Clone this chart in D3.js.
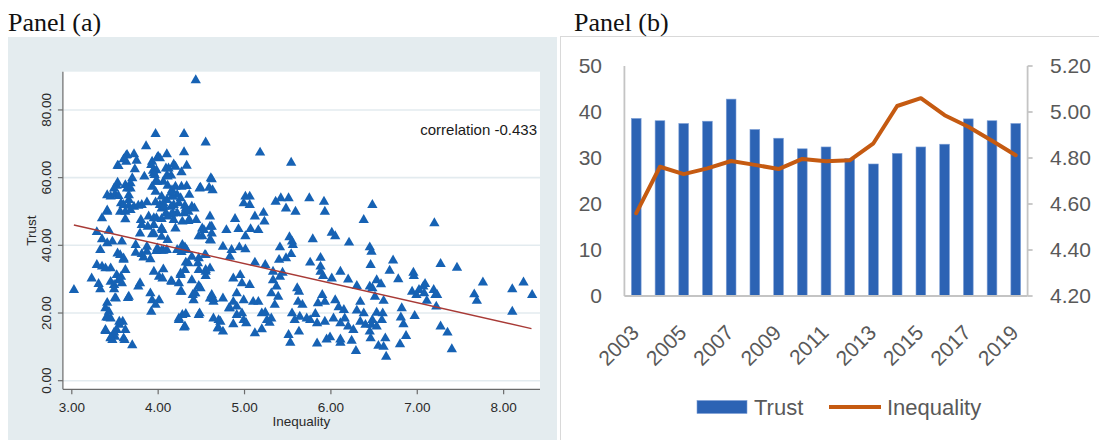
<!DOCTYPE html>
<html>
<head>
<meta charset="utf-8">
<script src="https://cdn.jsdelivr.net/npm/d3@7"></script>
<style>
  html, body { margin: 0; padding: 0; background: #ffffff; }
  svg { display: block; }
</style>
</head>
<body>
<svg id="chart" width="1099" height="440"></svg>
<script>
// ---------- Panel (a): inequality vs trust, one triangle per observation ----------
const scatterPoints = [
  // [inequality, trust]
  [3.97,72.9],[4.30,72.9],[4.55,70.4],[3.86,69.3],[3.63,66.5],[3.72,66.9],[3.75,65.0],[3.63,64.7],
  [3.54,63.4],[3.73,62.5],[3.93,64.7],[3.99,65.9],[4.02,65.7],[4.10,66.9],[4.30,67.5],[3.92,63.7],
  [4.18,63.9],[4.33,63.5],[3.94,62.0],[3.95,61.3],[4.12,62.7],[4.15,60.6],[4.27,61.6],[3.84,60.3],
  [3.70,59.8],[3.68,58.3],[4.10,60.6],[4.06,58.8],[3.97,58.8],[4.61,59.8],[4.59,57.0],[4.49,57.0],
  [3.52,57.6],[3.62,57.8],[3.68,56.8],[3.93,57.3],[3.97,55.8],[4.11,57.6],[4.16,56.3],[4.27,57.3],
  [4.33,57.5],[4.36,54.9],[3.45,54.4],[3.50,55.1],[3.54,54.6],[3.57,52.4],[4.04,54.4],[4.10,53.4],
  [4.16,54.4],[4.22,54.9],[4.26,53.9],[4.18,51.9],[4.24,52.4],[4.31,51.7],[4.39,51.4],[3.60,51.9],
  [3.66,51.7],[3.72,51.4],[3.77,51.7],[3.81,51.9],[3.87,52.7],[3.97,52.7],[4.02,51.9],[4.06,52.4],
  [3.56,49.9],[3.62,49.9],[3.68,50.4],[3.41,49.9],[3.35,48.0],[4.04,50.9],[4.09,49.5],[4.15,49.0],
  [4.22,49.5],[4.30,49.5],[4.35,49.9],[3.89,48.5],[3.95,48.0],[4.04,47.8],[4.18,47.5],[4.28,47.0],
  [4.35,47.2],[4.44,47.5],[4.60,48.5],[3.62,47.7],[3.81,46.0],[3.95,46.0],[4.04,45.0],[4.20,45.0],
  [4.51,45.0],[4.60,45.5],[3.29,43.9],[3.43,44.3],
  [4.17,54.4],[4.20,57.3],[4.15,55.5],[4.11,60.3],[4.09,62.7],[4.20,63.2],[3.98,62.2],[3.96,60.8],
  [3.99,58.8],[4.00,66.2],[3.98,48.0],[4.07,51.4],[4.15,51.4],[4.17,49.4],[4.11,48.5],[4.05,44.5],
  [3.95,43.4],[3.88,45.5],[3.80,47.5],[3.79,43.5],[4.11,41.6],[4.06,38.4],[3.98,38.3],
  [3.66,53.4],[3.66,54.8],[3.64,56.8],[3.53,58.5],[3.49,56.8],[3.53,63.5],[3.60,65.4],[3.64,66.7],
  [3.41,54.8],[3.41,50.3],[4.36,47.5],[4.42,50.9],[4.32,50.9],[4.53,44.5],[4.47,42.7],[4.61,41.4],
  [4.62,45.5],[4.63,56.3],[4.62,59.5],[4.48,56.8],
  [3.35,41.8],[3.41,40.6],[3.33,38.6],[3.47,41.1],[3.58,41.1],[3.93,43.3],[4.04,42.5],[4.51,42.7],
  [4.60,41.6],[3.74,37.8],[3.81,37.4],[3.87,38.1],[3.91,35.9],[3.99,39.1],[4.04,38.4],[4.10,38.6],
  [4.28,40.1],[4.33,38.6],[4.39,36.6],[4.47,36.2],[4.55,37.1],[3.56,37.1],[3.60,35.7],[3.74,40.1],
  [3.87,39.6],[3.83,36.4],[3.29,34.2],[3.35,33.7],[3.39,33.2],[3.45,33.2],[3.52,31.2],[3.62,32.7],
  [3.54,29.7],[3.45,29.2],[3.49,28.3],[3.58,28.8],[3.31,28.6],[3.33,27.0],[3.49,27.0],[3.79,28.8],
  [3.77,27.8],[3.95,32.2],[4.06,32.9],[4.01,30.7],[4.05,30.2],[4.16,29.2],[4.24,28.8],[4.26,31.2],
  [4.31,32.7],[4.35,34.7],[4.39,29.7],[4.47,32.7],[4.55,32.2],[4.60,33.2],[4.27,26.3],[4.41,23.8],
  [4.43,25.8],[4.49,27.3],[4.60,24.3],[3.91,25.8],[3.93,23.8],[4.01,23.8],[3.97,22.4],[3.66,24.8],
  [3.51,24.3],[3.92,20.4],[3.41,23.0],[3.39,21.4],[3.43,20.4],[3.40,18.7],[3.45,18.4],[3.59,17.4],
  [3.55,16.5],[3.52,15.0],[3.62,15.0],[3.50,13.0],[3.60,12.5],[3.39,15.0],[3.45,12.5],[3.47,12.0],
  [3.70,10.5],[4.28,19.4],[4.24,17.9],[4.31,16.0],[4.47,19.4],[4.64,18.4],
  [4.26,31.7],[4.32,34.9],[4.27,38.0],[4.22,38.6],[4.31,39.4],[4.15,29.4],[4.26,26.3],[4.32,19.7],
  [4.30,15.7],[4.24,18.4],[4.54,37.1],[4.46,34.7],[4.55,32.7],[4.55,30.9],[4.47,28.0],[4.42,25.8],
  [4.48,19.9],[4.40,25.3],[3.57,30.7],[3.53,37.6],[3.60,36.1],[3.50,24.4],[3.65,24.4],[3.42,18.6],
  [3.39,14.7],[3.49,14.2],[3.55,17.4],[3.45,12.7],[3.61,12.0],[4.82,21.4],[4.70,17.9],[4.69,15.5],
  [4.64,24.1],[4.62,25.3],
  [5.18,67.4],[5.54,64.4],[5.01,54.4],[5.06,54.4],[4.99,52.4],[5.06,51.9],[5.36,52.9],[5.42,53.9],
  [5.51,53.9],[5.48,50.9],[5.59,49.9],[5.75,53.9],[5.92,52.9],[5.93,49.9],[6.48,51.9],[6.38,47.5],
  [5.22,49.6],[5.23,47.0],[5.12,48.5],[4.89,47.8],[4.79,44.5],[4.93,44.8],[5.07,44.8],[5.16,44.5],
  [5.01,42.7],[4.62,43.5],[4.75,39.6],[4.85,38.6],[4.94,39.4],[5.01,38.8],[4.83,36.6],[5.52,42.4],
  [5.55,41.1],[5.56,40.1],[5.41,39.4],[5.40,35.7],[5.48,36.2],[5.54,37.4],[5.79,41.8],[6.01,43.7],
  [6.05,42.7],[6.21,40.8],[6.45,39.4],[6.47,38.1],[6.46,34.2],[5.12,34.9],[5.24,34.2],[5.33,32.2],
  [5.41,30.7],[5.44,31.9],[5.76,34.9],[5.88,36.3],[5.88,33.7],[5.88,32.2],[5.91,30.9],[6.01,30.2],
  [6.11,32.2],[6.20,29.9],[6.30,28.0],[6.45,27.8],[6.48,27.3],[6.53,29.7],[4.87,30.2],[4.95,31.2],
  [4.97,28.8],[4.91,25.8],[5.06,28.3],[4.99,23.8],[5.33,29.7],[5.37,27.8],[5.31,25.8],[5.39,24.8],
  [5.35,22.4],[5.61,27.3],[5.63,26.3],[5.62,23.3],[5.67,22.4],[5.90,25.3],[5.93,23.3],[5.85,22.9],
  [6.05,23.8],[6.09,21.7],[6.15,20.9],[6.34,23.3],[6.30,20.7],[6.38,19.9],[6.51,24.8],[6.53,20.1],
  [6.48,17.9],[6.47,16.5],[6.53,16.0],[6.55,10.3],[6.45,14.5],[6.46,12.5],[4.64,23.3],[4.75,24.3],
  [4.87,23.3],[4.91,21.9],[4.83,21.4],[4.97,19.9],[4.91,19.4],[4.99,17.9],[5.02,17.0],[4.72,17.4],
  [4.70,15.5],[4.75,14.5],[4.87,16.7],[5.10,23.3],[5.16,23.3],[5.20,19.9],[5.24,20.1],[5.26,17.9],
  [5.31,18.4],[5.29,17.1],[5.12,14.0],[5.20,15.2],[5.55,19.9],[5.58,17.9],[5.64,18.9],[5.72,18.4],
  [5.76,17.9],[5.82,19.7],[5.84,17.0],[5.93,17.4],[5.51,13.5],[5.53,11.2],[5.63,14.5],[5.84,11.0],
  [5.95,12.2],[5.99,12.8],[6.11,12.2],[6.11,11.2],[6.24,11.8],[6.26,15.0],[6.29,8.8],[6.03,18.4],
  [6.11,17.0],[6.20,16.0],[6.16,18.4],[6.34,17.4],[6.40,16.5],
  [7.198,46.5],[6.72,35.5],[6.68,32.5],[6.78,30.0],[6.955,31.9],[6.96,30.9],[7.27,34.5],[7.46,33.4],
  [7.76,29.0],[7.66,25.5],[7.69,23.6],[8.10,27.0],[8.23,29.0],[8.33,25.3],[8.10,20.4],[6.94,26.3],
  [7.02,26.8],[6.99,25.3],[7.08,25.8],[7.07,27.8],[7.09,28.6],[7.11,23.6],[7.19,26.8],[7.21,25.3],
  [7.23,25.3],[7.22,21.9],[6.97,19.1],[6.82,21.4],[6.81,18.7],[6.84,16.7],[6.87,13.2],[6.80,10.8],
  [7.27,16.0],[7.35,14.2],[7.40,9.3],[6.61,23.6],[6.60,19.9],[6.59,17.9],[6.63,12.5],[6.61,10.0],
  [6.64,7.1],[6.58,28.5],
  [3.025,26.8],[3.23,30.2],[4.435,88.8]
];
const fitStart = [3.024, 46.0];
const fitEnd = [8.322, 15.4];
const correlationLabel = "correlation -0.433";
const scatterXTicks = [3, 4, 5, 6, 7, 8];
const scatterYTicks = [0, 20, 40, 60, 80];

// ---------- Panel (b): yearly averages ----------
const years = [2003,2004,2005,2006,2007,2008,2009,2010,2011,2012,2013,2014,2015,2016,2017,2018,2019];
const trustValues = [38.6,38.1,37.5,38.0,42.8,36.2,34.3,32.0,32.4,29.9,28.7,31.0,32.4,33.0,38.5,38.1,37.5];
const inequalityValues = [4.56,4.762,4.730,4.755,4.787,4.770,4.752,4.796,4.786,4.790,4.864,5.026,5.060,4.986,4.936,4.875,4.812];
const trustTicks = [0, 10, 20, 30, 40, 50];
const inequalityTicks = [4.2, 4.4, 4.6, 4.8, 5.0, 5.2];
const yearLabels = [2003,2005,2007,2009,2011,2013,2015,2017,2019];

const svg = d3.select("#chart");

// ======================= Panel (a) =======================
const pa = svg.append("g");
pa.append("rect").attr("x", 8).attr("y", 37).attr("width", 549).attr("height", 403).attr("fill", "#e4ecef");
pa.append("text").attr("x", 8).attr("y", 31)
  .attr("font-family", "'Liberation Serif', 'Times New Roman', serif").attr("font-size", 26)
  .attr("fill", "#111").text("Panel (a)");

const ax = { left: 62.9, right: 540, top: 71.7, bottom: 389.3 };
const xS = d3.scaleLinear().domain([2.897, 8.421]).range([ax.left, ax.right]);
const yS = d3.scaleLinear().domain([-2.54, 91.3]).range([ax.bottom, ax.top]);

pa.append("rect").attr("x", ax.left).attr("y", ax.top)
  .attr("width", ax.right - ax.left).attr("height", ax.bottom - ax.top).attr("fill", "#ffffff");

// horizontal grid
pa.append("g").selectAll("line").data(scatterYTicks).join("line")
  .attr("x1", ax.left).attr("x2", ax.right)
  .attr("y1", d => yS(d)).attr("y2", d => yS(d))
  .attr("stroke", "#e3ebef").attr("stroke-width", 1.6);

// axes
const sansA = "'Liberation Sans', Arial, sans-serif";
pa.append("line").attr("x1", ax.left).attr("x2", ax.left).attr("y1", ax.top).attr("y2", ax.bottom)
  .attr("stroke", "#6b6b6b").attr("stroke-width", 1.2);
pa.append("line").attr("x1", ax.left).attr("x2", ax.right).attr("y1", ax.bottom).attr("y2", ax.bottom)
  .attr("stroke", "#6b6b6b").attr("stroke-width", 1.2);

pa.append("g").selectAll("line").data(scatterYTicks).join("line")
  .attr("x1", ax.left - 5).attr("x2", ax.left)
  .attr("y1", d => yS(d)).attr("y2", d => yS(d))
  .attr("stroke", "#6b6b6b").attr("stroke-width", 1.2);
pa.append("g").selectAll("text").data(scatterYTicks).join("text")
  .attr("transform", d => `translate(46.4,${yS(d)}) rotate(-90)`)
  .attr("text-anchor", "middle").attr("dy", "0.35em")
  .attr("font-family", sansA).attr("font-size", 13.5).attr("fill", "#2a2a2a")
  .text(d => d3.format(".2f")(d));

pa.append("g").selectAll("line").data(scatterXTicks).join("line")
  .attr("x1", d => xS(d)).attr("x2", d => xS(d))
  .attr("y1", ax.bottom).attr("y2", ax.bottom + 5)
  .attr("stroke", "#6b6b6b").attr("stroke-width", 1.2);
pa.append("g").selectAll("text").data(scatterXTicks).join("text")
  .attr("x", d => xS(d)).attr("y", 411.5)
  .attr("text-anchor", "middle")
  .attr("font-family", sansA).attr("font-size", 13.5).attr("fill", "#2a2a2a")
  .text(d => d3.format(".2f")(d));

pa.append("text").attr("x", (ax.left + ax.right) / 2).attr("y", 425.5)
  .attr("text-anchor", "middle").attr("font-family", sansA).attr("font-size", 13.5)
  .attr("fill", "#2a2a2a").text("Inequality");
pa.append("text").attr("transform", `translate(31.4,${(ax.top + ax.bottom) / 2}) rotate(-90)`)
  .attr("text-anchor", "middle").attr("dy", "0.35em").attr("font-family", sansA)
  .attr("font-size", 13.5).attr("fill", "#2a2a2a").text("Trust");

// observations
const tri = d3.symbol().type(d3.symbolTriangle).size(46);
pa.append("g").selectAll("path").data(scatterPoints).join("path")
  .attr("d", tri)
  .attr("transform", d => `translate(${xS(d[0])},${yS(d[1])})`)
  .attr("fill", "#1662b4");

// linear fit
pa.append("line")
  .attr("x1", xS(fitStart[0])).attr("y1", yS(fitStart[1]))
  .attr("x2", xS(fitEnd[0])).attr("y2", yS(fitEnd[1]))
  .attr("stroke", "#a83a36").attr("stroke-width", 1.4);

pa.append("text").attr("x", 537).attr("y", 135)
  .attr("text-anchor", "end").attr("font-family", sansA).attr("font-size", 15)
  .attr("fill", "#1a1a1a").text(correlationLabel);

// ======================= Panel (b) =======================
const pb = svg.append("g");
pb.append("rect").attr("x", 560.5).attr("y", 36.5).attr("width", 560).attr("height", 420)
  .attr("fill", "#ffffff").attr("stroke", "#d9d9d9").attr("stroke-width", 1);
pb.append("text").attr("x", 574).attr("y", 31)
  .attr("font-family", "'Liberation Serif', 'Times New Roman', serif").attr("font-size", 26)
  .attr("fill", "#111").text("Panel (b)");

const bx = { left: 624.4, right: 1027.6, top: 66, bottom: 296 };
const xb = d3.scaleBand().domain(years).range([bx.left, bx.right]).paddingInner(0.59).paddingOuter(0.295);
const yT = d3.scaleLinear().domain([0, 50]).range([bx.bottom, bx.top]);
const yI = d3.scaleLinear().domain([4.2, 5.2]).range([bx.bottom, bx.top]);
const sansB = "'Liberation Sans', Arial, sans-serif";
const grey = "#595959";

// bars
pb.append("g").selectAll("rect").data(years).join("rect")
  .attr("x", d => xb(d)).attr("width", xb.bandwidth())
  .attr("y", (d, i) => yT(trustValues[i]))
  .attr("height", (d, i) => yT(0) - yT(trustValues[i]))
  .attr("fill", "#2c63b4").attr("stroke", "#7d9fd6").attr("stroke-width", 0.6);

// axis lines
pb.append("line").attr("x1", bx.left).attr("x2", bx.left).attr("y1", bx.top).attr("y2", bx.bottom)
  .attr("stroke", "#c4c4c4").attr("stroke-width", 1.8);
pb.append("line").attr("x1", bx.right).attr("x2", bx.right).attr("y1", bx.top).attr("y2", bx.bottom)
  .attr("stroke", "#c4c4c4").attr("stroke-width", 1.8);
pb.append("line").attr("x1", bx.left).attr("x2", bx.right).attr("y1", bx.bottom).attr("y2", bx.bottom)
  .attr("stroke", "#c4c4c4").attr("stroke-width", 1.8);
pb.append("g").selectAll("line").data(inequalityTicks).join("line")
  .attr("x1", bx.right).attr("x2", bx.right + 5)
  .attr("y1", d => yI(d)).attr("y2", d => yI(d))
  .attr("stroke", "#c4c4c4").attr("stroke-width", 1.8);

// inequality line
pb.append("path").datum(inequalityValues)
  .attr("d", d3.line().x((d, i) => xb(years[i]) + xb.bandwidth() / 2).y(d => yI(d)))
  .attr("fill", "none").attr("stroke", "#c55a11").attr("stroke-width", 4)
  .attr("stroke-linejoin", "round").attr("stroke-linecap", "round");

// tick labels
pb.append("g").selectAll("text").data(trustTicks).join("text")
  .attr("x", 602).attr("y", d => yT(d)).attr("dy", "0.35em").attr("text-anchor", "end")
  .attr("font-family", sansB).attr("font-size", 21).attr("fill", grey).text(d => d);
pb.append("g").selectAll("text").data(inequalityTicks).join("text")
  .attr("x", 1050).attr("y", d => yI(d)).attr("dy", "0.35em").attr("text-anchor", "start")
  .attr("font-family", sansB).attr("font-size", 21).attr("fill", grey).text(d => d3.format(".2f")(d));
pb.append("g").selectAll("text").data(yearLabels).join("text")
  .attr("transform", d => `translate(${xb(d) + xb.bandwidth() / 2 + 4},334) rotate(-45)`)
  .attr("text-anchor", "end")
  .attr("font-family", sansB).attr("font-size", 21).attr("fill", grey).text(d => d);

// legend
const lg = pb.append("g");
lg.append("rect").attr("x", 697).attr("y", 400.5).attr("width", 50).attr("height", 13)
  .attr("fill", "#2c63b4").attr("stroke", "#7d9fd6").attr("stroke-width", 0.6);
lg.append("text").attr("x", 754).attr("y", 407).attr("dy", "0.35em")
  .attr("font-family", sansB).attr("font-size", 22).attr("fill", grey).text("Trust");
lg.append("line").attr("x1", 829).attr("x2", 881).attr("y1", 407).attr("y2", 407)
  .attr("stroke", "#c55a11").attr("stroke-width", 4);
lg.append("text").attr("x", 887).attr("y", 407).attr("dy", "0.35em")
  .attr("font-family", sansB).attr("font-size", 22).attr("fill", grey).text("Inequality");
</script>
</body>
</html>
